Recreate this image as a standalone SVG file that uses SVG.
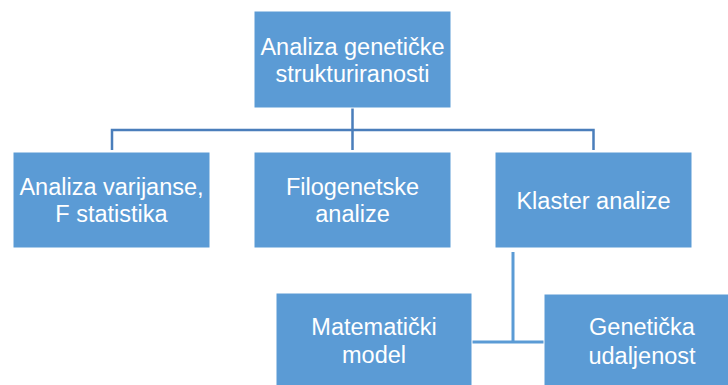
<svg xmlns="http://www.w3.org/2000/svg" width="728" height="385" viewBox="0 0 728 385">
<style>
.box{fill:#5B9BD5;stroke:#ffffff;stroke-width:1}
.t{font-family:"Liberation Sans",Arial,sans-serif;font-size:23.5px;fill:#ffffff;text-anchor:middle}
.c{fill:none;stroke:#4A7EBB;stroke-width:2.5}
.c2{fill:none;stroke:#5B9BD5;stroke-width:3}
</style>
<rect width="728" height="385" fill="#ffffff"/>
<g id="connectors">
<path class="c" d="M352.5,108 V130 M112,150 V130 H593.5 V150 M352.5,130 V150"/>
<path class="c2" d="M513,252 V342 M472,342 H544"/>
</g>
<g id="n-root">
<rect class="box" x="254" y="11" width="197" height="97"/>
<text class="t" x="352.5" y="55">Analiza genetičke</text>
<text class="t" x="352.5" y="82">strukturiranosti</text>
</g>
<g id="n-anova">
<rect class="box" x="13" y="152" width="197" height="96"/>
<text class="t" x="111.5" y="195">Analiza varijanse,</text>
<text class="t" x="111.5" y="222">F statistika</text>
</g>
<g id="n-filo">
<rect class="box" x="254" y="152" width="197" height="96"/>
<text class="t" x="352.5" y="195">Filogenetske</text>
<text class="t" x="352.5" y="222">analize</text>
</g>
<g id="n-klaster">
<rect class="box" x="495" y="152" width="197" height="96"/>
<text class="t" x="593.5" y="209">Klaster analize</text>
</g>
<g id="n-mat">
<rect class="box" x="276" y="293" width="196" height="97"/>
<text class="t" x="374" y="335">Matematički</text>
<text class="t" x="374" y="363">model</text>
</g>
<g id="n-gen">
<rect class="box" x="544" y="294" width="196" height="97"/>
<text class="t" x="642" y="335">Genetička</text>
<text class="t" x="642" y="364">udaljenost</text>
</g>
</svg>
